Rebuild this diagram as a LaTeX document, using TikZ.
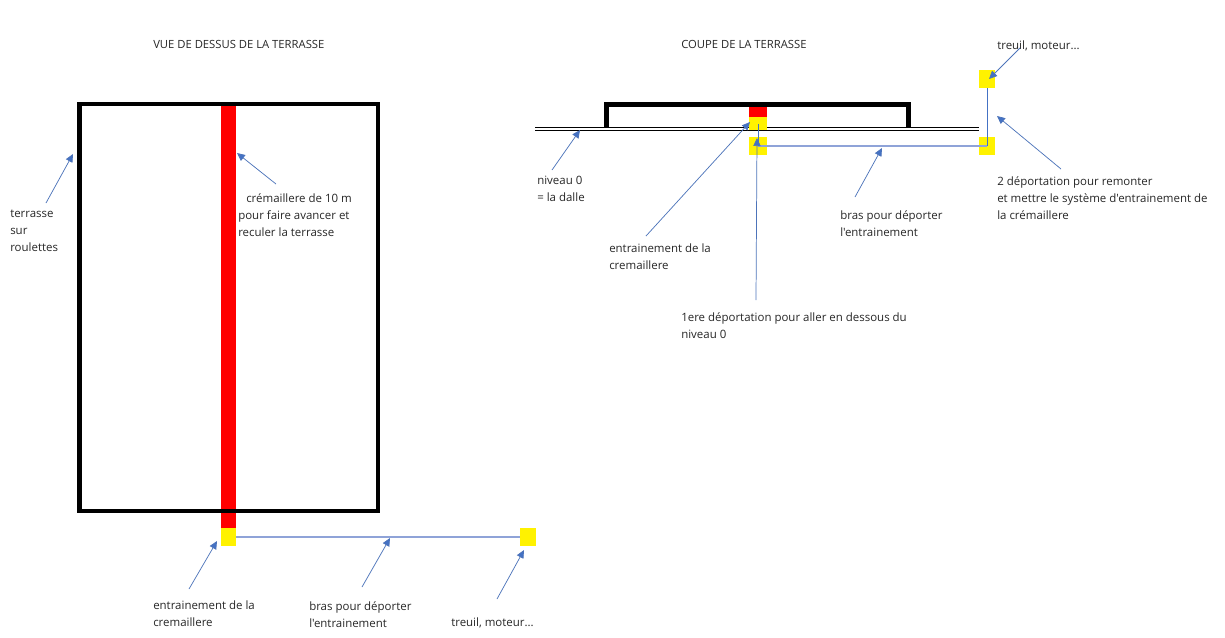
\documentclass[tikz,border=0pt]{standalone}
\usepackage{fontspec}
\newfontfamily\fontetexte{Open Sans}
\usepackage{xcolor}
\usetikzlibrary{arrows.meta}
\definecolor{bleu}{HTML}{4472C4}
\definecolor{bleuclair}{HTML}{8FA3D8}
\tikzset{
  cadre/.style={line width=3.2pt,black,line join=miter},
  jaune/.style={fill=yellow,draw=none,inner sep=0pt,minimum width=12pt,minimum height=13.5pt},
  rouge/.style={fill=red,draw=none},
  sol/.style={line width=0.9pt,black},
  bras/.style={line width=0.9pt,bleuclair},
  tige/.style={line width=0.7pt,bleu},
  fleche/.style={line width=0.55pt,bleu!85!gray,-{Triangle[length=6pt,width=5.5pt,fill=bleu]}},
  texte/.style={inner sep=0pt,anchor=north west,align=left,font=\fontetexte\fontsize{8.6}{12.75}\selectfont,text=black!85},
  titre/.style={texte,font=\fontetexte\fontsize{8.45}{12.75}\selectfont}
}
\begin{document}
\begin{tikzpicture}[x=0.75pt,y=-0.75pt]
        \useasboundingbox (0,0) rectangle (1225,637);
        % vue de dessus
        \fill[rouge] (221,105) rectangle (236,528);
        \draw[cadre] (79.5,104) rectangle (378,511);
        \node[jaune,minimum width=11.25pt] (j1) at (228.5,537) {};
        \node[jaune] (j2) at (528,537) {};
        \draw[bras] (j1.east) -- (j2.west);
        % coupe
        \foreach \y in {127.8,130.6}{\draw[sol] (535,\y) -- (979,\y);}
        \draw[cadre] (606.5,127) -- (606.5,104.5) -- (908.5,104.5) -- (908.5,127);
        \fill[rouge] (749,107) rectangle (767,117);
        \node[jaune,minimum width=13.5pt,minimum height=9.75pt] (j3) at (758,123.5) {};
        \node[jaune,minimum width=13.5pt] (j4) at (758,146) {};
        \node[jaune] (j5) at (987,146) {};
        \node[jaune] (j6) at (987,79) {};
        \draw[bras] (j4.center) -- (j5.center);
        \draw[tige] (j5.center) -- (j6.south);
        \draw[tige] (j4.center) -- (j3.center);
        % textes
        \node[titre] (t1) at (153,40) {VUE DE DESSUS DE LA TERRASSE};
        \node[titre] (t2) at (681,40) {COUPE DE LA TERRASSE};
        \node[texte] (l1) at (10,210) {terrasse\\sur\\roulettes};
        \node[texte] (l2) at (238,193) {\hspace*{6pt}crémaillere de 10 m\\pour faire avancer et\\reculer la terrasse};
        \node[texte] (l3) at (153,601) {entrainement de la\\cremaillere};
        \node[texte] (l4) at (309,601) {bras pour déporter\\l'entrainement};
        \node[texte] (l5) at (451,618) {treuil, moteur...};
        \node[texte] (l6) at (997,41) {treuil, moteur...};
        \node[texte] (l7) at (537,176) {niveau 0\\= la dalle};
        \node[texte] (l8) at (840,210) {bras pour déporter\\l'entrainement};
        \node[texte] (l9) at (997,176) {2 déportation pour remonter\\et mettre le système d'entrainement de\\la crémaillere};
        \node[texte] (l10) at (609,244) {entrainement de la\\cremaillere};
        \node[texte] (l11) at (681,312) {1ere déportation pour aller en dessous du\\niveau 0};
        % fleches
        \foreach \n/\xa/\ya/\xb/\yb in {1/46/203/73/154,2/276/184/237/153,3/189/589/217/541,4/362/587/390/538,5/497/599/524/550,6/1020/48/989/79,7/552/170/580/130,8/855/197/882/148,9/1061/169/997/116,10/646/236/750/122,11/756/300/757/138}{
          \coordinate (d\n) at (\xa,\ya);
          \coordinate (a\n) at (\xb,\yb);
          \draw[fleche] (d\n) -- (a\n);
        }
    \end{tikzpicture}
\end{document}
